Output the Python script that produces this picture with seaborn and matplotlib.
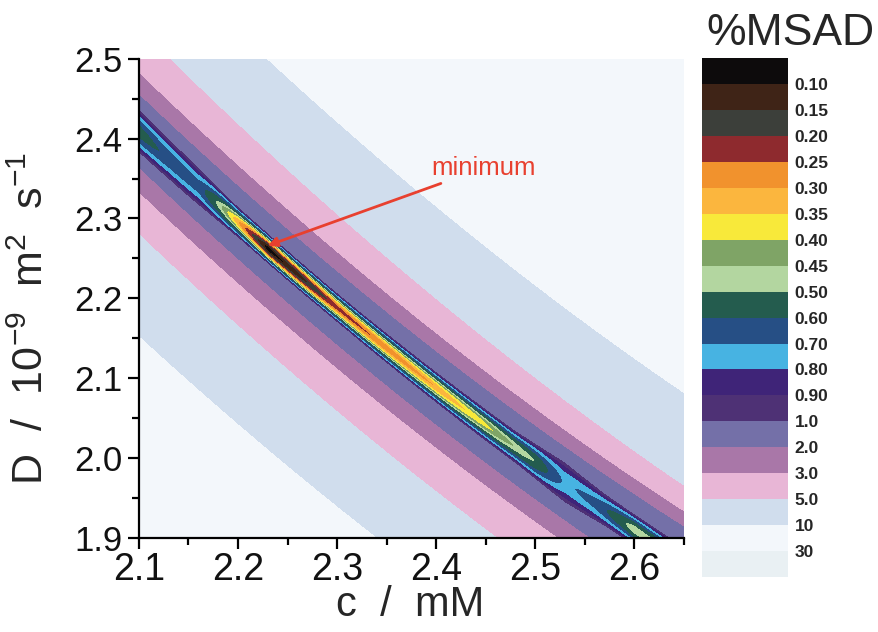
import numpy as np
import matplotlib
matplotlib.use("Agg")
import matplotlib.pyplot as plt
from matplotlib.colors import ListedColormap
from matplotlib.ticker import MultipleLocator, FormatStrFormatter
import seaborn as sns

# valley bottom (c in mM, D in 1e-9 m2/s)
centre_c = [2.10, 2.20, 2.232, 2.30, 2.40, 2.50, 2.618]
centre_D = [2.407, 2.291, 2.264, 2.204, 2.077, 1.991, 1.900]

# lowest %MSAD along the valley bottom
floor_c = [2.10, 2.13, 2.16, 2.20, 2.23, 2.26, 2.30, 2.35, 2.40, 2.45, 2.50, 2.53, 2.56, 2.60, 2.65]
floor_msad = [0.55, 0.62, 0.65, 0.30, 0.07, 0.12, 0.22, 0.26, 0.30, 0.38, 0.50, 0.72, 0.66, 0.45, 0.50]

# half width of the %MSAD = 1.0 contour across the valley
core_c = [2.10, 2.15, 2.20, 2.30, 2.40, 2.48, 2.53, 2.57, 2.65]
core_w = [0.028, 0.025, 0.020, 0.019, 0.020, 0.021, 0.026, 0.021, 0.019]

# distance in D of the outer contours above / below the valley
outer_msad = [2.0, 3.0, 5.0, 10, 30]
upper_off_left = [0.047, 0.074, 0.130, 0.245, 0.80]   # at c = 2.10
upper_off_right = [0.045, 0.064, 0.096, 0.212, 0.80]  # at c = 2.65
lower_off_left = [0.047, 0.078, 0.130, 0.258, 0.80]
lower_off_right = [0.049, 0.076, 0.132, 0.236, 0.80]

min_c, min_D = 2.230, 2.266

levels = [0.0, 0.10, 0.15, 0.20, 0.25, 0.30, 0.35, 0.40, 0.45, 0.50, 0.60,
          0.70, 0.80, 0.90, 1.0, 2.0, 3.0, 5.0, 10, 30, 100]
level_labels = ["0.10", "0.15", "0.20", "0.25", "0.30", "0.35", "0.40", "0.45",
                "0.50", "0.60", "0.70", "0.80", "0.90", "1.0", "2.0", "3.0",
                "5.0", "10", "30"]
colors = ["#0d0b0c", "#3f2417", "#3c3f3a", "#8e2a2e", "#f1922d", "#fbb63e",
          "#f8e93a", "#7fa466", "#b3d6a0", "#245c4e", "#264f85", "#47b3e2",
          "#3f2478", "#4e3175", "#7470a8", "#a977a8", "#e8b6d6", "#d0dded",
          "#f3f7fb", "#e9f0f3"]

sns.set_theme(style="ticks")
plt.rcParams["font.family"] = ["Liberation Sans", "DejaVu Sans"]
plt.rcParams["mathtext.fontset"] = "custom"
plt.rcParams["mathtext.rm"] = "Liberation Sans"
plt.rcParams["mathtext.default"] = "regular"

# build the %MSAD surface from the read contours
c = np.linspace(2.1, 2.65, 551)
D = np.linspace(1.9, 2.5, 601)
fit = np.polyfit(centre_c, centre_D, 2)
Z = np.empty((len(D), len(c)))
for j, cj in enumerate(c):
    d = D - np.polyval(fit, cj)
    w = np.interp(cj, core_c, core_w)
    m = np.interp(cj, floor_c, floor_msad)
    t = (cj - 2.1) / 0.55
    up_off = [a + (b - a) * t for a, b in zip(upper_off_left, upper_off_right)]
    lo_off = [a + (b - a) * t for a, b in zip(lower_off_left, lower_off_right)]
    ad = np.abs(d)
    inner = m + (1 - m) * (ad / w) ** 2
    up = np.interp(d, [w] + up_off, [1.0] + outer_msad)
    lo = np.interp(-d, [w] + lo_off, [1.0] + outer_msad)
    Z[:, j] = np.where(ad <= w, inner, np.where(d > 0, up, lo))

fig = plt.figure(figsize=(8.79, 6.32), dpi=100)
ax = fig.add_axes([0.158, 0.149, 0.62, 0.758])
ax.contourf(c, D, Z, levels=levels, colors=colors)

ax.set_xlim(2.1, 2.65)
ax.set_ylim(1.9, 2.5)
ax.xaxis.set_major_locator(MultipleLocator(0.1))
ax.xaxis.set_minor_locator(MultipleLocator(0.05))
ax.yaxis.set_major_locator(MultipleLocator(0.1))
ax.yaxis.set_minor_locator(MultipleLocator(0.05))
ax.xaxis.set_major_formatter(FormatStrFormatter("%.1f"))
ax.yaxis.set_major_formatter(FormatStrFormatter("%.1f"))
ax.tick_params(which="major", direction="out", length=8, width=1.6,
               color="black", labelcolor="#111111")
ax.tick_params(which="minor", direction="out", length=5, width=1.6, color="black")
ax.tick_params(axis="x", which="major", labelsize=27, pad=2)
ax.tick_params(axis="y", which="major", labelsize=25, pad=4)
sns.despine(ax=ax)
for s in ["left", "bottom"]:
    ax.spines[s].set_linewidth(1.6)
    ax.spines[s].set_color("black")

ax.set_xlabel("c  /  mM", fontsize=30)
ax.set_ylabel(r"D  /  10$^{-9}$  m$^{2}$  s$^{-1}$", fontsize=31)
ax.xaxis.set_label_coords(0.497, -0.098)
ax.yaxis.set_label_coords(-0.16, 0.459)

ax.annotate("minimum", xy=(min_c, min_D), xytext=(2.395, 2.363),
            color="#e8402f", fontsize=18.5, va="center", ha="left",
            arrowprops=dict(arrowstyle="-|>", color="#e8402f", lw=2,
                            mutation_scale=14, shrinkA=0, shrinkB=0))

# discrete legend bar
cax = fig.add_axes([0.799, 0.087, 0.097, 0.821])
sns.heatmap(np.arange(len(colors)).reshape(-1, 1), cmap=ListedColormap(colors),
            cbar=False, ax=cax, xticklabels=False, yticklabels=False)
cax.yaxis.tick_right()
cax.set_yticks(np.arange(1, len(colors)))
cax.set_yticklabels(level_labels, fontsize=12.5, fontweight="bold", rotation=0)
cax.tick_params(length=0, pad=5)
fig.text(0.899, 0.929, "%MSAD", ha="center", va="baseline", fontsize=32)

fig.savefig("out.png", dpi=100)
